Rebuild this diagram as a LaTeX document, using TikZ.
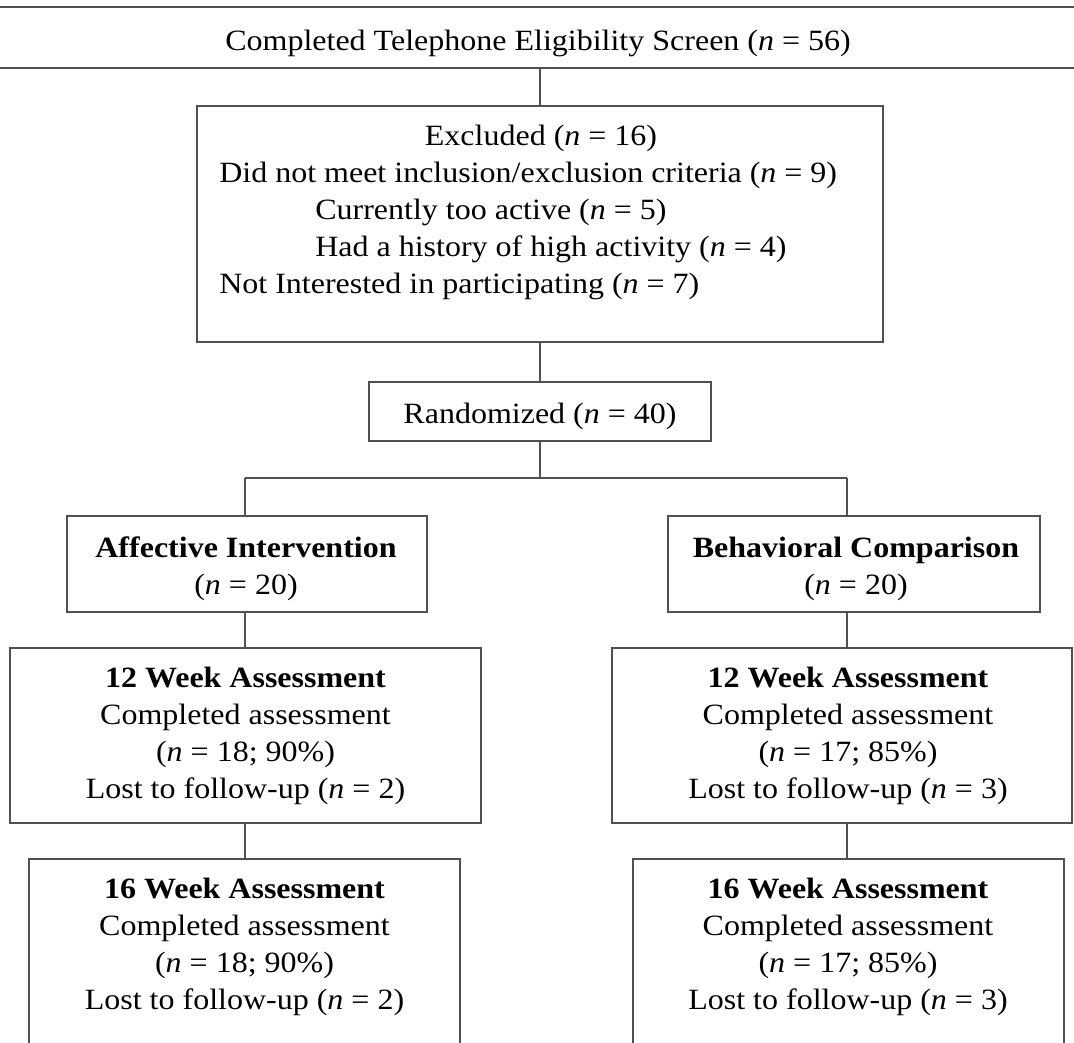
\documentclass[tikz,border=0pt]{standalone}
\usepackage{fontspec}
\usepackage{graphicx}
\setmainfont{Liberation Serif}
\definecolor{linec}{RGB}{80,80,80}
\newcommand\squashtxt[1]{\scalebox{1}[0.92]{#1}}
\begin{document}
\begin{tikzpicture}[x=0.75pt,y=-0.75pt,
  box/.style={draw=linec,line width=1.3pt,inner sep=0pt,rectangle},
  conn/.style={draw=linec,line width=1.3pt},
  txt/.style={inner sep=0pt,anchor=base,font=\fontsize{24pt}{27.75pt}\selectfont},
  txtl/.style={txt,anchor=base west}]
\useasboundingbox (0,0) rectangle (1074,1042);
\clip (0,0) rectangle (1074,1042);
% boxes
\node[box,minimum width={1094*0.75pt},minimum height={61*0.75pt}] (top) at (540,37.5) {};
\node[box,minimum width={686*0.75pt},minimum height={236*0.75pt}] (excl) at (540,224) {};
\node[box,minimum width={342*0.75pt},minimum height={59*0.75pt}] (rand) at (540,411.5) {};
\node[box,minimum width={360*0.75pt},minimum height={96*0.75pt}] (aff) at (247,564) {};
\node[box,minimum width={372*0.75pt},minimum height={96*0.75pt}] (beh) at (854,564) {};
\node[box,minimum width={471*0.75pt},minimum height={175*0.75pt}] (lw12) at (245.5,735.5) {};
\node[box,minimum width={460*0.75pt},minimum height={175*0.75pt}] (rw12) at (842,735.5) {};
\node[box,minimum width={431*0.75pt},minimum height={216*0.75pt}] (lw16) at (244.5,967) {};
\node[box,minimum width={431*0.75pt},minimum height={216*0.75pt}] (rw16) at (848.5,967) {};
% texts
\node[txt] (topt) at (538,50) {\squashtxt{Completed Telephone Eligibility Screen (\textit{n} = 56)}};
\node[txt] (ex1) at (541,145) {\squashtxt{Excluded (\textit{n} = 16)}};
\node[txtl] (ex2) at (219,182) {\squashtxt{Did not meet inclusion/exclusion criteria (\textit{n} = 9)}};
\node[txtl] (ex3) at (315,219) {\squashtxt{Currently too active (\textit{n} = 5)}};
\node[txtl] (ex4) at (315,256) {\squashtxt{Had a history of high activity (\textit{n} = 4)}};
\node[txtl] (ex5) at (219,293) {\squashtxt{Not Interested in participating (\textit{n} = 7)}};
\node[txt] (randt) at (540,423) {\squashtxt{Randomized (\textit{n} = 40)}};
\node[txt] (aff1) at (246,557) {\squashtxt{\textbf{Affective Intervention}}};
\node[txt] (aff2) at (246,594) {\squashtxt{(\textit{n} = 20)}};
\node[txt] (beh1) at (856,557) {\squashtxt{\textbf{Behavioral Comparison}}};
\node[txt] (beh2) at (856,594) {\squashtxt{(\textit{n} = 20)}};
\node[txt] (lw12a) at (245.5,687) {\squashtxt{\textbf{12 Week Assessment}}};
\node[txt] (lw12b) at (245.5,724) {\squashtxt{Completed assessment}};
\node[txt] (lw12c) at (245.5,761) {\squashtxt{(\textit{n} = 18; 90\%)}};
\node[txt] (lw12d) at (245.5,798) {\squashtxt{Lost to follow-up (\textit{n} = 2)}};
\node[txt] (rw12a) at (848,687) {\squashtxt{\textbf{12 Week Assessment}}};
\node[txt] (rw12b) at (848,724) {\squashtxt{Completed assessment}};
\node[txt] (rw12c) at (848,761) {\squashtxt{(\textit{n} = 17; 85\%)}};
\node[txt] (rw12d) at (848,798) {\squashtxt{Lost to follow-up (\textit{n} = 3)}};
\node[txt] (lw16a) at (244.5,898) {\squashtxt{\textbf{16 Week Assessment}}};
\node[txt] (lw16b) at (244.5,935) {\squashtxt{Completed assessment}};
\node[txt] (lw16c) at (244.5,972) {\squashtxt{(\textit{n} = 18; 90\%)}};
\node[txt] (lw16d) at (244.5,1009) {\squashtxt{Lost to follow-up (\textit{n} = 2)}};
\node[txt] (rw16a) at (848,898) {\squashtxt{\textbf{16 Week Assessment}}};
\node[txt] (rw16b) at (848,935) {\squashtxt{Completed assessment}};
\node[txt] (rw16c) at (848,972) {\squashtxt{(\textit{n} = 17; 85\%)}};
\node[txt] (rw16d) at (848,1009) {\squashtxt{Lost to follow-up (\textit{n} = 3)}};
% connectors
\coordinate (split) at (540,478);
\coordinate (L) at (245,478);
\coordinate (R) at (847,478);
\draw[conn] (top.south) -- (excl.north);
\draw[conn] (excl.south) -- (rand.north);
\draw[conn] (rand.south) -- (split);
\draw[conn] (L) -- (R);
\draw[conn] (L) -- (L |- aff.north);
\draw[conn] (R) -- (R |- beh.north);
\draw[conn] (L |- aff.south) -- (L |- lw12.north);
\draw[conn] (R |- beh.south) -- (R |- rw12.north);
\draw[conn] (L |- lw12.south) -- (L |- lw16.north);
\draw[conn] (R |- rw12.south) -- (R |- rw16.north);
\end{tikzpicture}
\end{document}
